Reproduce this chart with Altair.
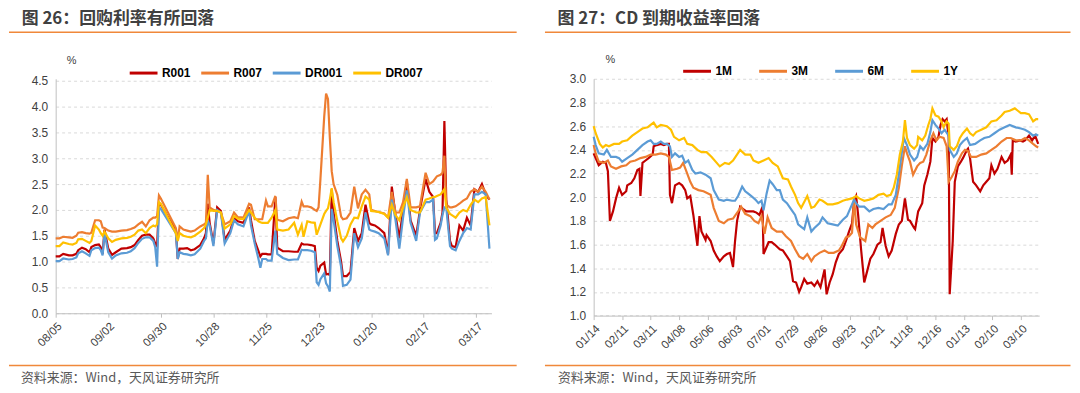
import altair as alt
import pandas as pd

# ---------------- Left panel: repo rates (days since 08/05) ----------------
left_days = [0, 2, 4, 7, 9, 11, 12, 14, 16, 18,
             19, 21, 23, 24, 25, 26, 28, 30, 32, 35,
             38, 40, 42, 44, 46, 48, 50, 52, 53, 54,
             55, 56, 64, 65, 66, 68, 70, 72, 74, 77,
             79, 80, 81, 82, 84, 86, 88, 90, 93, 95,
             97, 100, 103, 104, 106, 108, 109, 110, 112, 113,
             115, 117, 118, 121, 124, 127, 129, 131, 132, 134,
             136, 138, 139, 140, 141, 143, 144, 145, 146, 147,
             148, 150, 152, 153, 155, 157, 159, 161, 163, 165,
             167, 168, 170, 172, 175, 177, 179, 181, 183, 185,
             187, 189, 192, 194, 197, 199, 201, 202, 203, 205,
             206, 207, 208, 210, 211, 213, 215, 217, 219, 221,
             223, 225, 227, 229, 231]
r001 = [1.10, 1.10, 1.15, 1.12, 1.12, 1.15, 1.22, 1.27, 1.24, 1.18,
        1.28, 1.32, 1.33, 1.28, 1.15, 1.62, 1.25, 1.13, 1.18, 1.25,
        1.26, 1.28, 1.32, 1.42, 1.50, 1.52, 1.52, 1.45, 1.35, 1.30,
        2.12, 2.10, 1.60, 1.05, 1.25, 1.25, 1.26, 1.22, 1.24, 1.32,
        1.45, 1.55, 2.12, 1.75, 1.35, 2.05, 1.98, 1.42, 1.60, 1.85,
        1.78, 1.75, 2.05, 1.80, 1.40, 1.20, 1.10, 1.15, 1.15, 1.14,
        1.14, 2.25, 1.27, 1.20, 1.20, 1.19, 1.19, 1.35, 1.33, 1.33,
        1.32, 1.30, 0.88, 0.82, 0.92, 0.98, 0.75, 0.76, 0.74, 2.40,
        1.95, 1.40, 1.00, 0.72, 0.72, 0.80, 1.65, 1.40, 1.55, 2.10,
        1.75, 1.72, 1.70, 1.65, 1.55, 1.15, 2.45, 1.90, 1.45, 2.00,
        2.55, 1.80, 1.50, 2.00, 2.60, 2.35, 2.25, 1.55, 1.55, 1.75,
        1.95, 3.72, 2.20, 1.40, 1.30, 1.28, 1.70, 1.60, 1.85, 1.70,
        2.40, 2.35, 2.50, 2.30, 2.20]
r007 = [1.45, 1.45, 1.48, 1.47, 1.46, 1.50, 1.56, 1.57, 1.55, 1.54,
        1.56, 1.80, 1.80, 1.78, 1.66, 1.65, 1.60, 1.58, 1.58, 1.60,
        1.61, 1.63, 1.66, 1.72, 1.77, 1.68, 1.80, 1.85, 1.85, 1.88,
        2.28, 2.22, 1.65, 1.42, 1.68, 1.62, 1.60, 1.58, 1.60, 1.68,
        1.72, 1.75, 2.68, 2.05, 2.00, 1.98, 1.95, 1.72, 1.78, 1.95,
        1.86, 1.85, 2.12, 2.10, 1.82, 1.82, 1.82, 1.82, 2.18, 2.07,
        2.07, 2.27, 1.81, 1.78, 1.84, 1.86, 1.84, 2.16, 2.07, 2.07,
        2.05, 2.00, 1.98, 2.05, 2.60, 3.80, 4.25, 4.15, 3.40, 2.75,
        2.50, 2.29, 1.87, 1.82, 1.84, 1.95, 2.45, 2.03, 2.30, 2.39,
        2.30, 2.00, 1.98, 1.96, 1.93, 1.85, 2.35, 1.95, 1.95, 2.15,
        2.60, 2.05, 2.05, 2.07, 2.72, 2.50, 2.55, 2.60, 2.65, 2.68,
        2.72, 3.05, 2.10, 2.05, 2.05, 2.07, 2.12, 2.18, 2.22, 2.35,
        2.40, 2.35, 2.45, 2.35, 2.20]
dr001 = [1.01, 1.01, 1.06, 1.04, 1.05, 1.08, 1.16, 1.20, 1.16, 1.11,
         1.22, 1.26, 1.27, 1.22, 1.12, 1.55, 1.18, 1.06, 1.12, 1.16,
         1.17, 1.20, 1.26, 1.36, 1.44, 1.47, 1.47, 1.40, 1.28, 0.90,
         2.05, 2.02, 1.55, 1.05, 1.18, 1.15, 1.14, 1.12, 1.14, 1.25,
         1.40, 1.45, 1.80, 1.70, 1.30, 2.00, 1.95, 1.35, 1.55, 1.80,
         1.72, 1.68, 1.98, 1.70, 1.35, 1.05, 0.88, 1.05, 1.05, 1.02,
         1.02, 1.60, 1.15, 1.07, 1.03, 1.04, 1.04, 1.23, 1.22, 1.22,
         1.21, 1.18, 0.60, 0.55, 0.66, 0.77, 0.58, 0.52, 0.42, 2.02,
         1.80, 1.30, 0.90, 0.53, 0.55, 0.65, 1.55, 1.28, 1.45, 1.95,
         1.62, 1.60, 1.58, 1.55, 1.45, 1.12, 2.20, 1.80, 1.25, 1.85,
         2.38, 1.75, 1.40, 1.95, 2.15, 2.15, 2.20, 1.42, 1.45, 1.70,
         1.90, 2.05, 2.05, 1.30, 1.25, 1.22, 1.40, 1.55, 1.65, 1.62,
         2.30, 2.30, 2.35, 2.30, 1.25]
dr007 = [1.30, 1.30, 1.37, 1.34, 1.33, 1.36, 1.43, 1.44, 1.40, 1.36,
         1.40, 1.70, 1.62, 1.55, 1.50, 1.58, 1.45, 1.38, 1.42, 1.45,
         1.46, 1.48, 1.52, 1.60, 1.62, 1.55, 1.65, 1.70, 1.68, 1.72,
         2.15, 2.12, 1.55, 1.40, 1.55, 1.50, 1.48, 1.47, 1.50, 1.58,
         1.65, 1.72, 1.85, 2.00, 1.98, 1.98, 1.95, 1.64, 1.72, 1.88,
         1.83, 1.82, 2.00, 1.95, 1.85, 1.78, 1.76, 1.75, 1.75, 1.75,
         1.85, 2.00, 1.62, 1.60, 1.62, 1.75, 1.52, 1.71, 1.48, 1.78,
         1.76, 1.75, 1.52, 1.62, 1.72, 1.92, 1.98, 2.03, 2.20, 2.42,
         2.15, 1.78, 1.45, 1.39, 1.50, 1.72, 1.85, 1.84, 2.07, 2.26,
         2.20, 1.98, 1.97, 1.96, 1.92, 1.85, 2.10, 1.90, 1.80, 2.05,
         2.25, 2.00, 1.95, 1.95, 2.20, 2.22, 2.25, 2.25, 2.27, 2.30,
         2.35, 2.40, 2.05, 1.92, 1.90, 1.85, 1.95, 2.00, 1.97, 2.10,
         2.20, 2.15, 2.22, 2.25, 1.70]
left_names = ["R001", "R007", "DR001", "DR007"]
left_ticks = ["08/05", "09/02", "09/30", "10/28", "11/25", "12/23", "01/20", "02/17", "03/17"]

# ---------------- Right panel: CD yields (days since 01/14) ----------------
m1_days = [0, 2, 5, 9, 12, 14, 16, 19, 22, 25,
           28, 32, 33, 37, 40, 43, 45, 46, 48, 51,
           54, 58, 59, 62, 66, 69, 72, 74, 75, 77,
           80, 84, 87, 90, 92, 95, 98, 102, 104, 106,
           110, 111, 115, 118, 121, 124, 128, 131, 134, 137,
           139, 141, 144, 147, 150, 154, 157, 160, 163, 166,
           167, 172, 175, 178, 183, 186, 190, 193, 196, 199,
           202, 204, 207, 210, 214, 217, 220, 223, 227, 229,
           232, 235, 238, 241, 245, 248, 251, 254, 256, 258,
           260, 263, 266, 269, 272, 275, 279, 282, 284, 287,
           290, 293, 297, 300, 303, 306, 309, 311, 315, 316,
           319, 323, 325, 328, 331, 333, 336, 339, 341, 343,
           345, 347, 349, 350, 353, 355, 358, 361, 363, 367,
           368, 370, 373, 376, 380, 383, 386, 389, 391, 394,
           397, 401, 404, 407, 410, 411, 412, 415, 419, 422,
           424, 428, 431, 434, 437]
m1_vals = [2.37, 2.33, 2.27, 2.30, 2.29, 2.22, 1.80, 1.88, 1.99, 2.08,
           2.02, 2.05, 2.10, 2.12, 2.16, 2.23, 2.24, 2.01, 2.29, 2.31,
           2.33, 2.36, 2.43, 2.44, 2.45, 2.44, 2.45, 2.45, 2.02, 1.95,
           2.10, 2.12, 2.10, 2.06, 1.99, 2.01, 1.85, 1.59, 1.84, 1.71,
           1.64, 1.68, 1.63, 1.55, 1.50, 1.46, 1.50, 1.52, 1.53, 1.41,
           1.63, 1.80, 1.92, 1.90, 1.88, 1.88, 1.88, 1.87, 1.85, 1.92,
           1.52, 1.62, 1.62, 1.60, 1.56, 1.55, 1.50, 1.46, 1.29, 1.28,
           1.20, 1.24, 1.31, 1.27, 1.28, 1.25, 1.29, 1.24, 1.39, 1.18,
           1.28, 1.35, 1.45, 1.52, 1.56, 1.63, 1.71, 1.78, 1.97, 2.01,
           1.85, 1.55, 1.28, 1.38, 1.48, 1.52, 1.60, 1.62, 1.74, 1.59,
           1.50, 1.55, 1.69, 1.77, 1.80, 1.99, 1.81, 1.80, 1.74, 1.73,
           1.88, 1.95, 2.10, 2.19, 2.30, 2.50, 2.47, 2.51, 2.61, 2.66,
           2.64, 2.66, 2.51, 1.18, 1.63, 2.13, 2.26, 2.30, 2.33, 2.40,
           2.41, 2.33, 2.13, 2.10, 2.05, 2.10, 2.13, 2.16, 2.27, 2.20,
           2.24, 2.34, 2.29, 2.31, 2.36, 2.19, 2.48, 2.47, 2.48, 2.47,
           2.48, 2.52, 2.48, 2.52, 2.45]
m3_days = [0, 2, 5, 10, 14, 17, 22, 27, 32, 36,
           41, 46, 51, 56, 61, 66, 71, 74, 77, 82,
           85, 88, 92, 95, 98, 103, 108, 115, 118, 123,
           128, 132, 137, 142, 145, 149, 154, 158, 162, 165,
           168, 171, 175, 180, 185, 189, 194, 198, 202, 206,
           210, 214, 217, 222, 227, 231, 236, 241, 244, 248,
           251, 254, 256, 258, 262, 267, 270, 274, 277, 282,
           287, 292, 296, 300, 303, 306, 308, 311, 314, 318,
           321, 324, 327, 331, 334, 337, 340, 344, 347, 349,
           352, 355, 358, 362, 365, 368, 371, 376, 381, 386,
           391, 396, 401, 406, 410, 415, 420, 424, 428, 432,
           435, 437]
m3_vals = [2.44, 2.37, 2.30, 2.29, 2.31, 2.26, 2.24, 2.26, 2.27, 2.30,
           2.31, 2.33, 2.34, 2.36, 2.36, 2.37, 2.36, 2.34, 2.23, 2.24,
           2.25, 2.29, 2.20, 2.13, 2.08, 2.06, 2.05, 2.02, 1.91, 1.80,
           1.78, 1.81, 1.82, 1.88, 1.92, 1.86, 1.84, 1.80, 1.78, 1.84,
           1.69, 1.83, 1.74, 1.71, 1.71, 1.67, 1.63, 1.56, 1.50, 1.48,
           1.52, 1.46, 1.50, 1.53, 1.55, 1.53, 1.53, 1.55, 1.59, 1.66,
           1.67, 1.70, 1.99, 1.77, 1.66, 1.63, 1.77, 1.74, 1.77, 1.80,
           1.83, 1.85, 1.91, 2.08, 2.27, 2.43, 2.37, 2.30, 2.19, 2.26,
           2.29, 2.30, 2.36, 2.48, 2.54, 2.48, 2.51, 2.50, 2.43, 2.13,
           2.17, 2.22, 2.30, 2.37, 2.40, 2.39, 2.34, 2.34, 2.36, 2.37,
           2.40, 2.43, 2.47, 2.50, 2.50, 2.48, 2.48, 2.50, 2.48, 2.45,
           2.43, 2.42]
m6_days = [0, 2, 5, 10, 13, 17, 22, 25, 28, 33,
           38, 43, 48, 53, 56, 59, 62, 66, 69, 72,
           75, 77, 80, 84, 87, 90, 93, 97, 100, 105,
           110, 115, 118, 123, 128, 131, 136, 139, 142, 146,
           149, 152, 155, 159, 162, 165, 167, 170, 173, 176,
           180, 183, 186, 190, 194, 198, 201, 204, 207, 210,
           214, 217, 222, 225, 230, 235, 240, 245, 249, 254,
           256, 258, 261, 266, 271, 275, 280, 285, 290, 293,
           297, 300, 303, 305, 308, 311, 315, 318, 321, 324,
           328, 331, 333, 336, 339, 342, 345, 349, 350, 354,
           357, 360, 363, 367, 370, 375, 380, 384, 389, 394,
           399, 404, 409, 415, 420, 424, 428, 432, 435, 437]
m6_vals = [2.51, 2.44, 2.37, 2.36, 2.40, 2.34, 2.34, 2.33, 2.30, 2.33,
           2.36, 2.40, 2.44, 2.47, 2.48, 2.45, 2.45, 2.47, 2.45, 2.45,
           2.43, 2.34, 2.37, 2.34, 2.35, 2.29, 2.31, 2.23, 2.20, 2.21,
           2.19, 2.16, 2.06, 1.98, 1.97, 1.98, 1.97, 1.97, 2.01, 2.09,
           2.05, 2.03, 2.01, 1.98, 1.95, 1.97, 1.89, 2.03, 2.14, 2.11,
           2.06, 2.06, 1.98, 1.95, 1.90, 1.85, 1.77, 1.75, 1.73, 1.83,
           1.71, 1.74, 1.78, 1.83, 1.78, 1.77, 1.76, 1.81, 1.84, 1.94,
           1.98, 1.95, 1.92, 1.92, 1.88, 1.90, 1.91, 1.90, 1.94, 1.94,
           2.02, 2.19, 2.38, 2.50, 2.44, 2.36, 2.31, 2.34, 2.43, 2.40,
           2.45, 2.55, 2.65, 2.61, 2.58, 2.54, 2.57, 2.52, 2.40, 2.34,
           2.37, 2.44, 2.47, 2.50, 2.44, 2.45, 2.48, 2.50, 2.51, 2.54,
           2.57, 2.59, 2.61, 2.59, 2.58, 2.57, 2.55, 2.52, 2.53, 2.52]
y1_days = [0, 2, 6, 9, 12, 15, 20, 25, 28, 33,
           38, 43, 48, 53, 56, 59, 62, 66, 72, 76,
           79, 84, 89, 92, 97, 102, 106, 111, 116, 121,
           124, 129, 133, 137, 144, 149, 154, 157, 162, 167,
           172, 176, 181, 186, 191, 194, 198, 201, 204, 207,
           210, 214, 217, 222, 225, 230, 235, 240, 245, 249,
           254, 258, 261, 266, 271, 275, 280, 285, 288, 292,
           295, 298, 301, 304, 306, 308, 311, 315, 318, 319,
           323, 326, 329, 331, 333, 336, 339, 342, 344, 347,
           349, 350, 354, 357, 360, 363, 367, 370, 373, 376,
           381, 386, 391, 396, 401, 404, 409, 414, 417, 420,
           424, 428, 432, 435, 437]
y1_vals = [2.60, 2.54, 2.45, 2.42, 2.44, 2.43, 2.45, 2.45, 2.47, 2.48,
           2.52, 2.55, 2.58, 2.59, 2.61, 2.63, 2.59, 2.61, 2.60, 2.57,
           2.51, 2.48, 2.50, 2.45, 2.44, 2.40, 2.38, 2.38, 2.34, 2.29,
           2.26, 2.29, 2.28, 2.31, 2.40, 2.36, 2.36, 2.31, 2.29, 2.31,
           2.33, 2.29, 2.26, 2.16, 2.15, 2.09, 2.02, 1.95, 1.91, 1.96,
           2.01, 1.91, 1.92, 1.98, 1.97, 1.94, 1.94, 1.95, 1.97, 1.98,
           1.99, 2.01, 1.99, 1.97, 1.98, 1.99, 2.02, 2.03, 2.01, 2.02,
           2.08, 2.19, 2.36, 2.47, 2.65, 2.50, 2.44, 2.41, 2.44, 2.51,
           2.48, 2.52, 2.61, 2.66, 2.75, 2.69, 2.68, 2.64, 2.59, 2.64,
           2.62, 2.43, 2.40, 2.43, 2.50, 2.54, 2.58, 2.54, 2.52, 2.55,
           2.57, 2.59, 2.64, 2.65, 2.69, 2.72, 2.73, 2.75, 2.73, 2.71,
           2.71, 2.70, 2.64, 2.66, 2.66]
right_names = ["1M", "3M", "6M", "1Y"]
right_ticks = ["01/14", "02/11", "03/11", "04/08", "05/06", "06/03", "07/01", "07/29",
               "08/26", "09/23", "10/21", "11/18", "12/16", "01/13", "02/10", "03/10"]

COLORS = ["#C00000", "#ED7D31", "#5B9BD5", "#FFC000"]
ORANGE = "#F0883A"
TXT = "#404040"
SOURCE = "资料来源：Wind，天风证券研究所"


def long_df(names, pairs):
    rows = []
    for nm, (ds, vs) in zip(names, pairs):
        for d, v in zip(ds, vs):
            rows.append({"series": nm, "day": d, "value": v})
    return pd.DataFrame(rows)


def panel(df, names, x_max, width, height, y_min, y_max, y_top, y_step, ticks, title,
          leg_x, leg_y, leg_pad, rule_l, rule_r, title_x, title_y, top_rule_y,
          foot_rule_y, foot_x, foot_y, pct_x, pct_y, top_bound):
    arr = "[" + ",".join("'" + t + "'" for t in ticks) + "]"
    nsteps = int(round((y_max - y_min) / y_step))
    yvals = [round(y_min + k * y_step, 2) for k in range(nsteps + 1)]
    x_enc = alt.X("day:Q", scale=alt.Scale(domain=[0, x_max], nice=False, zero=False),
                  axis=alt.Axis(values=[28 * k for k in range(len(ticks))],
                                labelExpr=arr + "[round(datum.value / 28)]",
                                labelAngle=-45, labelAlign="right", labelBaseline="top",
                                labelPadding=3, labelOverlap=False, labelFlush=False,
                                grid=False, ticks=True, tickSize=4, tickColor="#bfbfbf",
                                domainColor="#bfbfbf", labelColor=TXT, labelFontSize=11.5,
                                labelFont="Liberation Sans", title=None))
    y_enc = alt.Y("value:Q", scale=alt.Scale(domain=[y_min, y_top], nice=False, zero=False),
                  axis=alt.Axis(values=yvals, format=".1f", grid=True, gridDash=[3, 3],
                                gridColor="#d9d9d9", domainColor="#bfbfbf", ticks=False,
                                labelPadding=8, labelColor=TXT, labelFontSize=12,
                                labelFont="Liberation Sans", title=None))
    col = alt.Color("series:N", scale=alt.Scale(domain=names, range=COLORS),
                    legend=alt.Legend(title=None, orient="none", legendX=leg_x, legendY=leg_y,
                                      direction="horizontal", symbolType="stroke",
                                      symbolSize=784, symbolStrokeWidth=3,
                                      labelFontSize=12, labelFontWeight="bold",
                                      labelFont="Liberation Sans", labelColor="#000000",
                                      columnPadding=leg_pad, labelOffset=3, padding=0))
    layers = [alt.Chart(df).transform_filter(alt.datum.series == nm)
              .mark_line(strokeWidth=2.2).encode(x=x_enc, y=y_enc, color=col)
              for nm in names]
    one = pd.DataFrame({"k": [0]})
    deco = [
        # invisible guide fixing the top of the panel's bounds
        alt.Chart(one).mark_rule(color="#ffffff", strokeWidth=1, opacity=0).encode(
            x=alt.value(0), x2=alt.value(10), y=alt.value(top_bound)),
        alt.Chart(one).mark_text(text=title, align="left", baseline="middle",
                                 font="Noto Sans CJK SC", fontSize=17, fontWeight="bold",
                                 color=TXT).encode(x=alt.value(title_x), y=alt.value(title_y)),
        alt.Chart(one).mark_rule(color=ORANGE, strokeWidth=1.5).encode(
            x=alt.value(rule_l), x2=alt.value(rule_r), y=alt.value(top_rule_y)),
        alt.Chart(one).mark_rule(color=ORANGE, strokeWidth=1.5).encode(
            x=alt.value(rule_l), x2=alt.value(rule_r), y=alt.value(foot_rule_y)),
        alt.Chart(one).mark_text(text=SOURCE, align="left", baseline="middle",
                                 font="Noto Sans CJK SC", fontSize=13,
                                 color="#595959").encode(x=alt.value(foot_x), y=alt.value(foot_y)),
        alt.Chart(one).mark_text(text="%", align="center", baseline="middle",
                                 font="Liberation Sans", fontSize=11,
                                 color=TXT).encode(x=alt.value(pct_x), y=alt.value(pct_y)),
    ]
    return alt.layer(*layers, *deco).properties(width=width, height=height)


left_df = long_df(left_names, [(left_days, r001), (left_days, r007),
                               (left_days, dr001), (left_days, dr007)])
right_df = long_df(right_names, [(m1_days, m1_vals), (m3_days, m3_vals),
                                 (m6_days, m6_vals), (y1_days, y1_vals)])

# both plot areas start at page y = 78.3; left panel keeps 52 px per 1.0
left = panel(left_df, left_names, 232, 438.5, 236, 0.0, 4.5, 4.5385, 0.5, left_ticks,
             "图 26：回购利率有所回落",
             leg_x=73, leg_y=-21.5, leg_pad=4, rule_l=-47, rule_r=464,
             title_x=-34.2, title_y=-60.0, top_rule_y=-46.8,
             foot_rule_y=288.5, foot_x=-35, foot_y=301.7, pct_x=16, pct_y=-18.3,
             top_bound=-69.8)
right = panel(right_df, right_names, 438, 448.5, 238.4, 1.0, 3.0, 3.0, 0.2, right_ticks,
              "图 27：CD 到期收益率回落",
              leg_x=88.6, leg_y=-23.3, leg_pad=20.5, rule_l=-49, rule_r=480,
              title_x=-36.3, title_y=-60.0, top_rule_y=-46.8,
              foot_rule_y=288.5, foot_x=-36, foot_y=301.7, pct_x=16.7, pct_y=-19.3,
              top_bound=-69.8)

chart = (alt.hconcat(left, right, spacing=26.5)
         .resolve_scale(color="independent")
         .resolve_legend(color="independent")
         .properties(padding=0)
         .configure_view(stroke=None))
chart.save("out.html", embed_options={"renderer": "svg", "actions": False})
